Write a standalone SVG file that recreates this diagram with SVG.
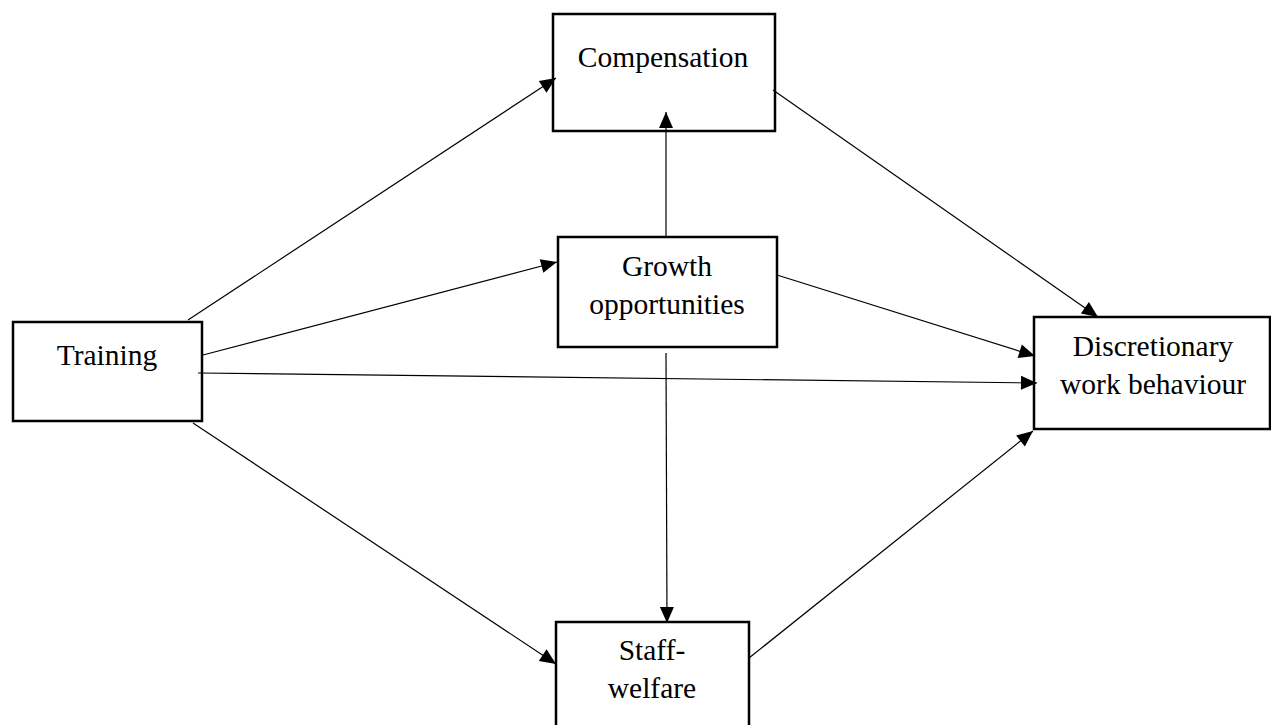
<svg xmlns="http://www.w3.org/2000/svg" width="1271" height="725" viewBox="0 0 1271 725">
<style>
.box{fill:#fff;stroke:#000;stroke-width:2.5}
.lbl{font-family:"Liberation Serif","Times New Roman",serif;font-size:29.5px;fill:#000;text-anchor:middle}
.con{stroke:#000;stroke-width:1.2;fill:none;marker-end:url(#ah)}
</style>
<defs>
<marker id="ah" markerUnits="userSpaceOnUse" markerWidth="17" markerHeight="15" refX="16" refY="7" orient="auto" overflow="visible">
<path d="M0,0 L16,7 L0,14 z" fill="#000"/>
</marker>
</defs>
<rect width="1271" height="725" fill="#fff"/>
<g id="n-compensation">
<rect class="box" x="553" y="14" width="222" height="117"/>
<text class="lbl" x="663" y="67">Compensation</text>
</g>
<g id="n-growth">
<rect class="box" x="558" y="237" width="219" height="110"/>
<text class="lbl" x="667" y="276">Growth</text>
<text class="lbl" x="667" y="314">opportunities</text>
</g>
<g id="n-training">
<rect class="box" x="13" y="322" width="189" height="99"/>
<text class="lbl" x="107" y="365">Training</text>
</g>
<g id="n-dwb">
<rect class="box" x="1034" y="317" width="236" height="112"/>
<text class="lbl" x="1153" y="356">Discretionary</text>
<text class="lbl" x="1153" y="394">work behaviour</text>
</g>
<g id="n-staff">
<rect class="box" x="556" y="622" width="193" height="110"/>
<text class="lbl" x="652" y="660">Staff-</text>
<text class="lbl" x="652" y="698">welfare</text>
</g>
<g id="connectors">
<line class="con" x1="188" y1="320" x2="556" y2="78"/>
<line class="con" x1="666" y1="237" x2="666" y2="112"/>
<line class="con" x1="203" y1="355" x2="557" y2="262"/>
<line class="con" x1="777" y1="275" x2="1035" y2="356"/>
<line class="con" x1="198" y1="373" x2="1037" y2="383"/>
<line class="con" x1="773" y1="90" x2="1098" y2="317"/>
<line class="con" x1="666" y1="353" x2="667" y2="623"/>
<line class="con" x1="193" y1="423" x2="556" y2="664"/>
<line class="con" x1="749" y1="658" x2="1033" y2="431"/>
</g>
</svg>
